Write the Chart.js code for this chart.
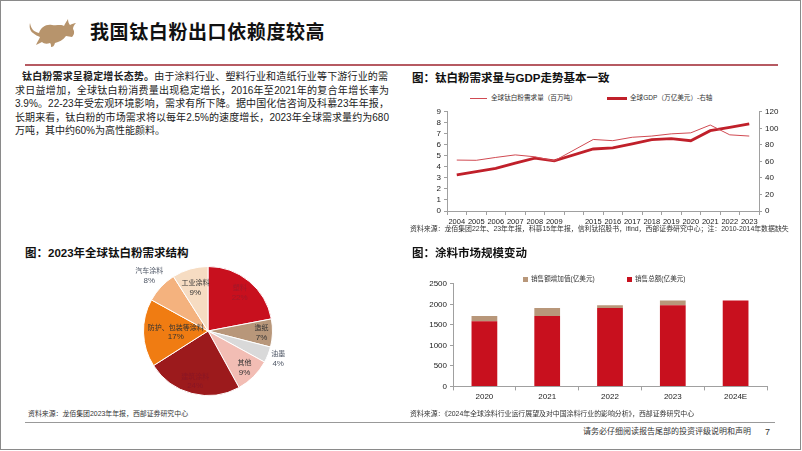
<!DOCTYPE html>
<html lang="zh">
<head>
<meta charset="UTF-8">
<title>我国钛白粉出口依赖度较高</title>
<script src="https://cdn.jsdelivr.net/npm/chart.js"></script>
<style>
  body {
    margin: 0;
    width: 802px;
    height: 451px;
    overflow: hidden;
    position: relative;
    background: #fff;
    font-family: 'Liberation Sans', Arial, 'Noto Sans CJK SC', sans-serif;
    color: #222;
  }
  .frame {
    position: absolute;
    left: 0; top: 0;
    width: 799px; height: 448px;
    border: 1.5px solid #8a8a8a;
  }
  .abs { position: absolute; white-space: nowrap; }
  .header { left: 90px; top: 20px; font-size: 19px; font-weight: bold; line-height: 26px; letter-spacing: 0.6px; color: #111; }
  .rule { position: absolute; height: 2px; background: #b65a62; }
  .para { position: absolute; font-size: 10px; line-height: 13px; text-align: justify; text-align-last: justify; white-space: nowrap; color: #222; }
  .para.last { text-align-last: left; }
  .sec { font-size: 11.5px; font-weight: bold; line-height: 16px; color: #111; }
  .src { font-size: 6.9px; line-height: 9px; color: #333; }
  .leg { font-size: 6.6px; line-height: 9px; color: #333; }
  canvas { position: absolute; }
</style>
</head>
<body>
<div class="frame"></div>

<svg class="abs" style="left:26px;top:15px" width="52" height="34" viewBox="0 0 52 34">
  <path d="M4 8 C5 14 8 17 13 18 C15 12 20 9 26 10 C31 11 35 9 38 11 C39 8 41 6 42 4 C42 7 43 9 44 10 C46 9 48 8 50 8 C48 10 47 12 47 14 C49 17 48 20 46 22 C44 22 42 21 40 21 C37 25 33 27 29 28 C28 31 27 32 25 32 C25 30 25 29 24 28 C21 29 18 29 16 27 C14 28 12 29 10 30 C11 27 13 25 14 22 C12 21 9 20 7 18 C4 16 3 12 4 8 Z" fill="#b7946c"/>
</svg>
<div class="abs header">我国钛白粉出口依赖度较高</div>
<div class="rule" style="left:25px;top:64px;width:753px"></div>

<div class="para" style="left:22px;top:70px;width:366px"><b>钛白粉需求呈稳定增长态势。</b>由于涂料行业、塑料行业和造纸行业等下游行业的需</div>
<div class="para" style="left:15px;top:84px;width:374px">求日益增加，全球钛白粉消费量出现稳定增长，2016年至2021年的复合年增长率为</div>
<div class="para" style="left:15px;top:97px;width:374px">3.9%。22-23年受宏观环境影响，需求有所下降。据中国化信咨询及科慕23年年报，</div>
<div class="para" style="left:15px;top:111px;width:374px">长期来看，钛白粉的市场需求将以每年2.5%的速度增长，2023年全球需求量约为680</div>
<div class="para last" style="left:15px;top:124px;width:374px">万吨，其中约60%为高性能颜料。</div>

<div class="abs sec" style="left:412px;top:70px">图：钛白粉需求量与GDP走势基本一致</div>
<div class="abs leg" style="left:470px;top:93px"><span style="display:inline-block;width:17px;height:1px;background:#d04a52;vertical-align:middle;margin-right:4px"></span>全球钛白粉需求量（百万吨）</div>
<div class="abs leg" style="left:607px;top:93px"><span style="display:inline-block;width:20px;height:3px;background:#c0202a;vertical-align:middle;margin-right:3px"></span>全球GDP（万亿美元）-右轴</div>
<canvas id="lineChart" width="392" height="124" style="left:405px;top:104px"></canvas>
<div class="abs src" style="left:410px;top:224px">资料来源：龙佰集团22年、23年年报，科慕15年年报，信利钛招股书，ifind，西部证券研究中心；注：2010-2014年数据缺失</div>

<div class="abs sec" style="left:25px;top:245px">图：2023年全球钛白粉需求结构</div>
<canvas id="pieChart" width="200" height="150" style="left:108px;top:256px"></canvas>
<div class="abs src" style="left:28px;top:409px">资料来源：龙佰集团2023年年报，西部证券研究中心</div>

<div class="abs sec" style="left:412px;top:245px">图：涂料市场规模变动</div>
<div class="abs leg" style="left:523px;top:274px"><span style="display:inline-block;width:5px;height:5px;background:#b8977a;vertical-align:middle;margin-right:3px"></span>销售额增加值(亿美元)</div>
<div class="abs leg" style="left:627px;top:274px"><span style="display:inline-block;width:5px;height:5px;background:#c8101e;vertical-align:middle;margin-right:3px"></span>销售总额(亿美元)</div>
<canvas id="barChart" width="372" height="128" style="left:405px;top:276px"></canvas>
<div class="abs src" style="left:410px;top:409px">资料来源：《2024年全球涂料行业运行展望及对中国涂料行业的影响分析》，西部证券研究中心</div>

<div class="rule" style="left:25px;top:422px;width:750px;height:1px;background:#999"></div>
<div class="abs" style="left:583px;top:426px;font-size:8px;line-height:12px;color:#333">请务必仔细阅读报告尾部的投资评级说明和声明</div>
<div class="abs" style="left:765px;top:426px;font-size:9px;line-height:12px;color:#333">7</div>

<script>
  // line chart data (2010-2014 missing -> empty slot)
  const years = ['2004', '2005', '2006', '2007', '2008', '2009', '', '2015', '2016', '2017', '2018', '2019', '2020', '2021', '2022', '2023'];
  const tio2Demand = [4.62, 4.6, 4.86, 5.09, 4.92, 4.55, null, 6.49, 6.38, 6.69, 6.8, 7.0, 7.09, 7.8, 6.91, 6.8];
  const worldGdp = [43.8, 47.6, 51.5, 58.0, 64.0, 60.6, null, 75.0, 76.3, 81.2, 86.3, 87.6, 85.0, 97.2, 101.3, 105.5];

  // pie data
  const pieNames = ['塑料', '造纸', '油墨', '其他', '建筑涂料', '防护、包装等涂料', '汽车涂料', '工业涂料'];
  const pieShares = [22, 7, 4, 9, 24, 17, 8, 9];

  // bar data
  const barYears = ['2020', '2021', '2022', '2023', '2024E'];
  const totalSales = [1590, 1715, 1910, 1975, 2095];
  const salesIncrease = [125, 195, 65, 120, 0];

  Chart.defaults.font.family = "'Liberation Sans', Arial, 'Noto Sans CJK SC', sans-serif";
  Chart.defaults.color = '#222';
  Chart.defaults.animation = false;
  Chart.defaults.responsive = false;
  Chart.defaults.devicePixelRatio = 1;
  Chart.defaults.plugins.legend.display = false;
  Chart.defaults.plugins.tooltip.enabled = false;

  const axisGray = '#a0a0a0';

  new Chart(document.getElementById('lineChart'), {
    type: 'line',
    data: {
      labels: years,
      datasets: [
        {
          label: '全球钛白粉需求量（百万吨）',
          data: tio2Demand,
          borderColor: '#d04a52',
          borderWidth: 1,
          pointRadius: 0,
          spanGaps: true,
          yAxisID: 'y',
        },
        {
          label: '全球GDP（万亿美元）-右轴',
          data: worldGdp,
          borderColor: '#c0202a',
          borderWidth: 2.8,
          pointRadius: 0,
          spanGaps: true,
          yAxisID: 'y1',
        },
      ],
    },
    options: {
      layout: { padding: 0 },
      scales: {
        x: {
          offset: true,
          grid: { offset: true, drawOnChartArea: false, tickLength: 4, color: axisGray },
          border: { color: axisGray },
          ticks: { font: { size: 7.5 }, maxRotation: 0, autoSkip: false, padding: 2 },
        },
        y: {
          position: 'left',
          min: 0, max: 9,
          grid: { drawOnChartArea: false, tickLength: 3, color: axisGray },
          border: { color: axisGray },
          ticks: { stepSize: 1, autoSkip: false, font: { size: 8 }, padding: 3 },
          afterFit: (s) => { s.width = 42; },
        },
        y1: {
          position: 'right',
          min: 0, max: 120,
          grid: { drawOnChartArea: false, tickLength: 3, color: axisGray },
          border: { color: axisGray },
          ticks: { stepSize: 20, autoSkip: false, font: { size: 8 }, padding: 3 },
          afterFit: (s) => { s.width = 38; },
        },
      },
    },
  });

  // slice label placement (fraction of radius) and text colours
  const labelDist = [0.77, 0.83, 1.17, 0.8, 0.8, 0.5, 1.25, 0.7];
  const labelColors = ['#a0182a', '#333', '#4f5766', '#333', '#8a1624', '#333', '#4f5766', '#333'];

  const pieLabels = {
    id: 'pieLabels',
    afterDatasetsDraw(chart) {
      const ctx = chart.ctx;
      const arcs = chart.getDatasetMeta(0).data;
      ctx.save();
      ctx.textAlign = 'center';
      ctx.textBaseline = 'middle';
      arcs.forEach((arc, i) => {
        const mid = (arc.startAngle + arc.endAngle) / 2;
        const r = arc.outerRadius * labelDist[i];
        const x = arc.x + Math.cos(mid) * r;
        const y = arc.y + Math.sin(mid) * r;
        ctx.fillStyle = labelColors[i];
        ctx.font = "7px 'Noto Sans CJK SC', sans-serif";
        ctx.fillText(pieNames[i], x, y - 5);
        ctx.font = "8px 'Liberation Sans', Arial, sans-serif";
        ctx.fillText(pieShares[i] + '%', x, y + 5);
      });
      ctx.restore();
    },
  };

  new Chart(document.getElementById('pieChart'), {
    type: 'pie',
    data: {
      labels: pieNames,
      datasets: [{
        data: pieShares,
        backgroundColor: ['#c8101e', '#b8977a', '#d9d9d9', '#f2bdb4', '#9c1a1c', '#f07c12', '#f4b27e', '#f6dcc2'],
        borderColor: '#fff',
        borderWidth: 1,
      }],
    },
    options: {
      layout: { padding: 10 },
    },
    plugins: [pieLabels],
  });

  new Chart(document.getElementById('barChart'), {
    type: 'bar',
    data: {
      labels: barYears,
      datasets: [
        {
          label: '销售总额(亿美元)',
          data: totalSales,
          backgroundColor: '#c8101e',
          categoryPercentage: 1,
          barPercentage: 0.41,
        },
        {
          label: '销售额增加值(亿美元)',
          data: salesIncrease,
          backgroundColor: '#b8977a',
          categoryPercentage: 1,
          barPercentage: 0.41,
        },
      ],
    },
    options: {
      layout: { padding: { right: 10 } },
      scales: {
        x: {
          stacked: true,
          grid: { drawOnChartArea: false, tickLength: 4, color: axisGray },
          border: { color: axisGray },
          ticks: { font: { size: 8 }, padding: 2 },
        },
        y: {
          stacked: true,
          min: 0, max: 2500,
          grid: { drawOnChartArea: false, tickLength: 3, color: axisGray },
          border: { color: axisGray },
          ticks: { stepSize: 500, font: { size: 8 }, padding: 3, callback: (v) => String(v) },
          afterFit: (s) => { s.width = 48; },
        },
      },
    },
  });
</script>
</body>
</html>
